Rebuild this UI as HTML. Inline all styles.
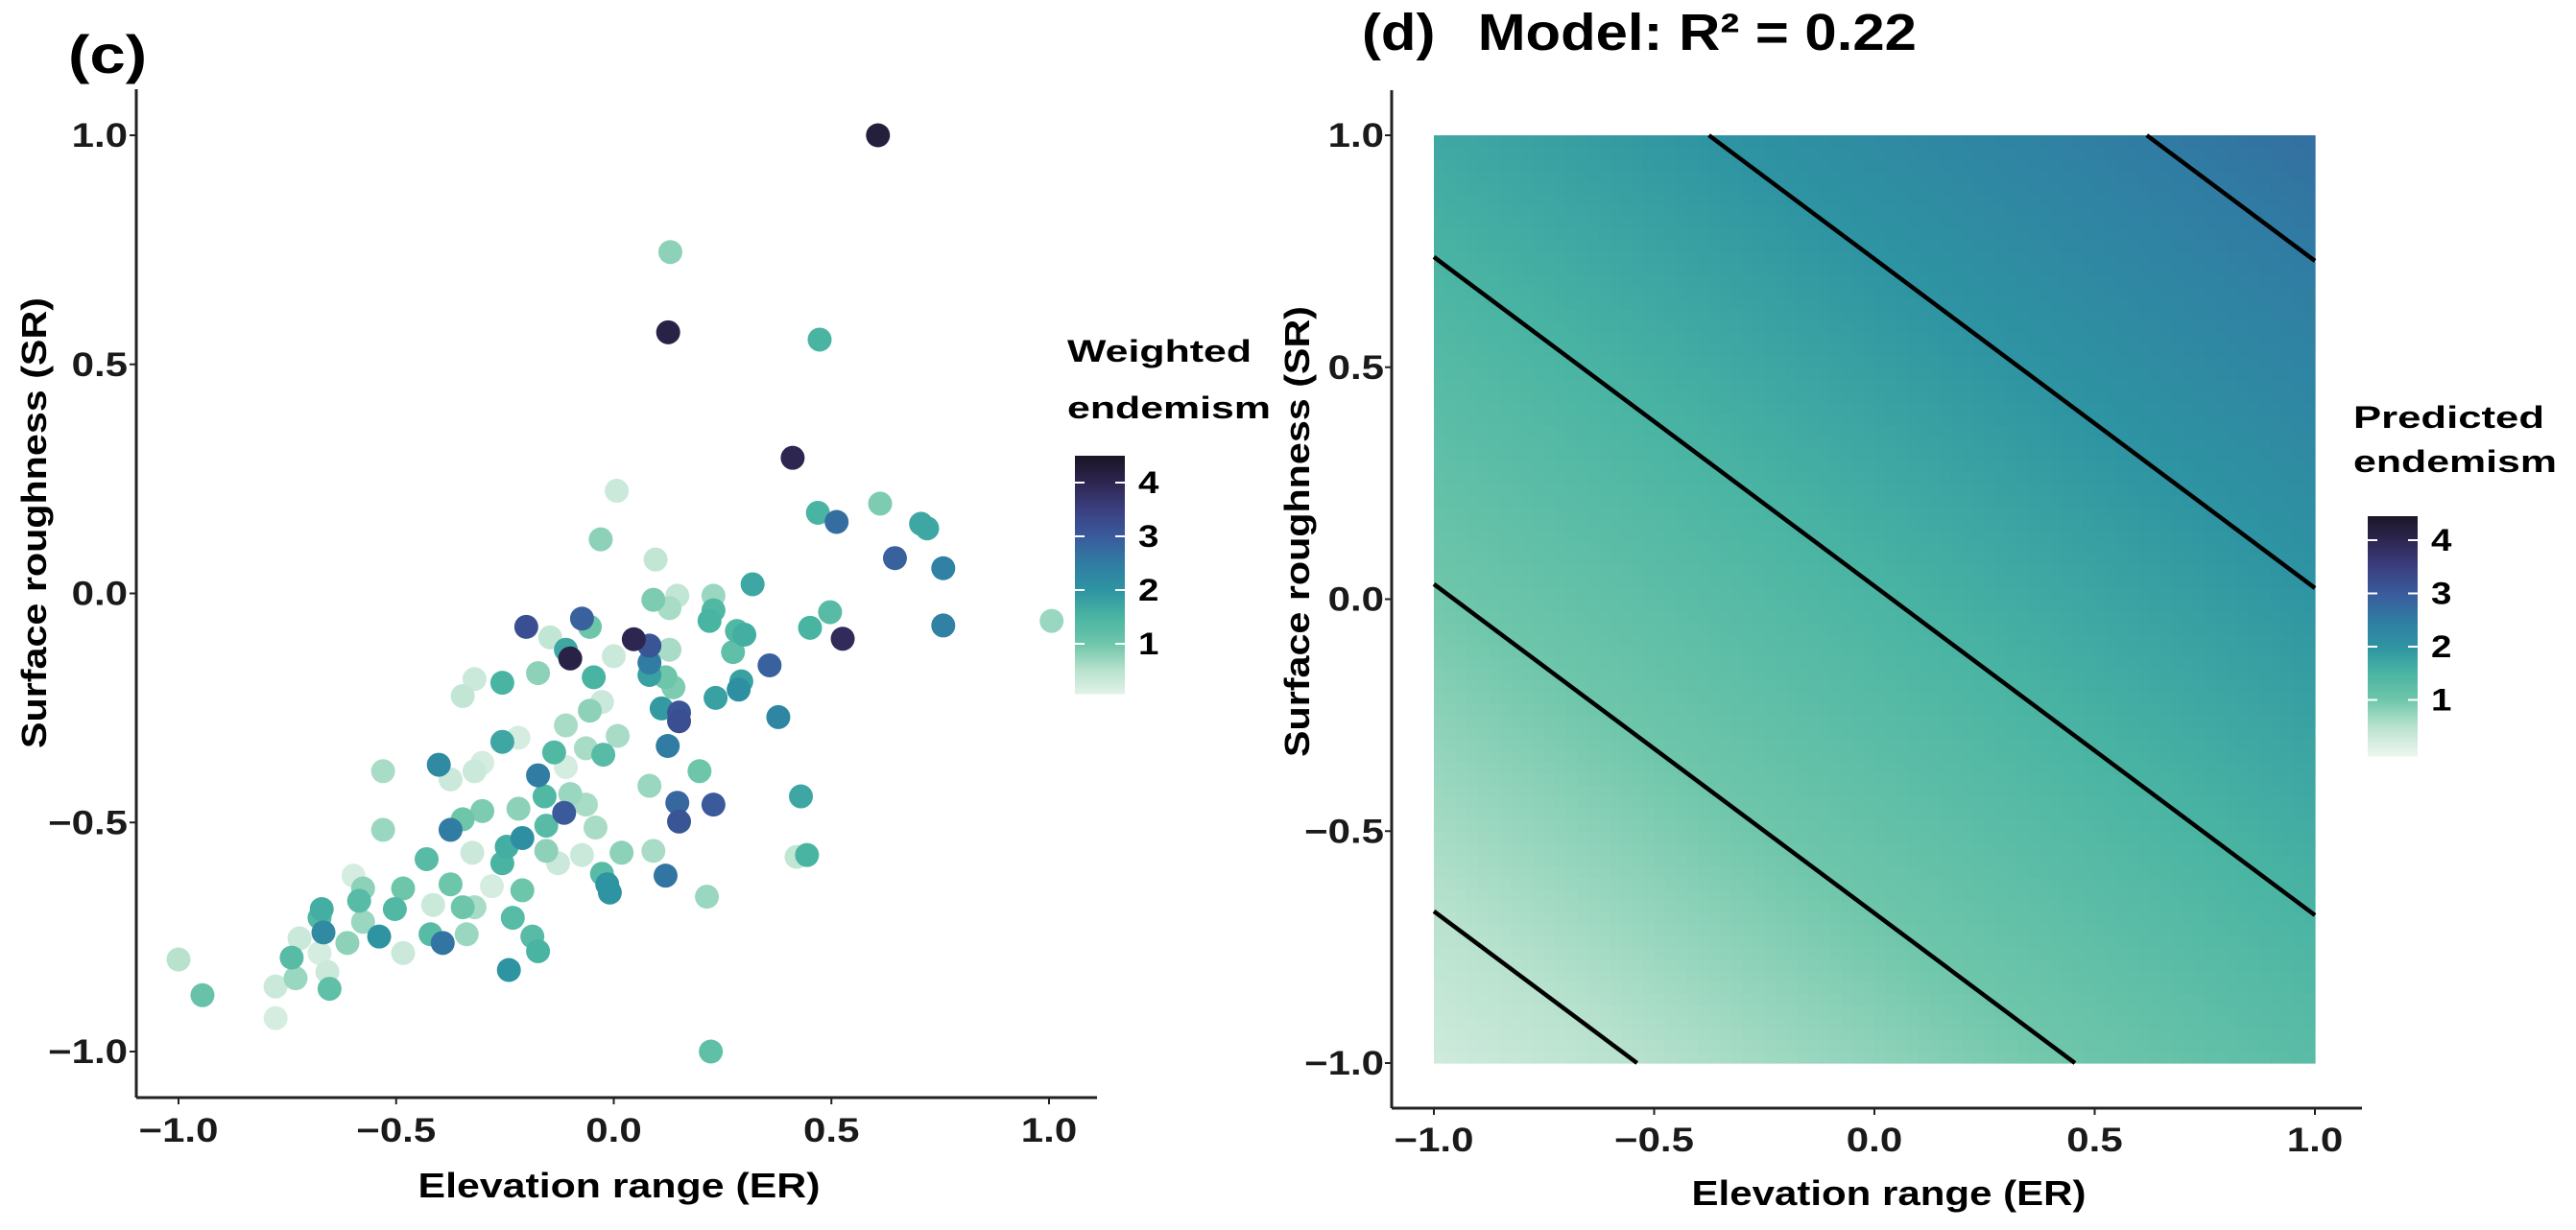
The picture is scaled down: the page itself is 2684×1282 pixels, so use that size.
<!DOCTYPE html>
<html><head><meta charset="utf-8"><style>
html,body{margin:0;padding:0;background:#fff;}
svg{display:block;font-family:"Liberation Sans",Arial,sans-serif;font-weight:bold;}
</style></head>
<body>
<svg id="fig" width="2684" height="1282" viewBox="0 0 2684 1282" xmlns="http://www.w3.org/2000/svg">
<text class="st" x="71" y="76" font-size="56">(c)</text>
<text class="st" x="1419" y="52" font-size="54">(d)<tspan dx="40">Model: R² = 0.22</tspan></text>
<text transform="translate(48,545) rotate(-90)" text-anchor="middle" font-size="36" textLength="470" lengthAdjust="spacingAndGlyphs">Surface roughness (SR)</text>
<text x="645" y="1248" text-anchor="middle" font-size="36" textLength="419" lengthAdjust="spacingAndGlyphs">Elevation range (ER)</text>
<text transform="translate(1364,554) rotate(-90)" text-anchor="middle" font-size="36" textLength="470" lengthAdjust="spacingAndGlyphs">Surface roughness (SR)</text>
<text x="1968" y="1256" text-anchor="middle" font-size="36" textLength="411" lengthAdjust="spacingAndGlyphs">Elevation range (ER)</text>
<g id="heat"></g>
<g id="contours"></g>
<g id="points"></g>
<g id="axes"></g>
<g id="legends"></g>
</svg>
<script>
// ---- data ----
const erVals = [0.13,0.125,0.007,-0.03,0.096,0.607,0.473,0.411,0.612,0.469,0.512,0.706,0.72,0.646,0.757,0.319,0.497,0.451,0.526,0.757,1.006,0.358,0.3,
0.091,0.146,0.229,0.128,0.229,-0.201,-0.073,-0.055,0.046,0.082,-0.1,-0.11,-0.146,0,0.128,0.22,0.283,0.274,0.082,0.082,0.119,0.137,0.293,0.287,0.234,0.11,0.15,0.15,0.378,
-0.046,-0.174,-0.256,-0.32,-0.347,-0.027,-0.055,-0.11,0.009,-0.064,-0.024,-0.137,-0.256,-0.219,0.124,0.197,0.082,-0.174,-0.402,-0.53,-0.375,-0.32,-0.302,-0.11,
-0.159,-0.1,-0.064,-0.114,0.146,0.229,0.15,0.43,-0.219,-0.302,-0.347,-0.375,-0.53,-0.155,-0.042,-0.21,-0.246,-0.155,-0.325,-0.43,-0.256,-0.128,-0.073,0.018,0.091,
0.119,-0.027,-0.015,-0.009,0.214,0.42,0.444,-0.598,-0.576,-0.484,-0.503,-0.585,-0.671,-0.676,-0.667,-0.576,-0.539,-0.612,-0.375,-0.415,-0.347,-0.32,-0.28,-0.21,
-0.232,-0.338,-0.421,-0.393,-0.187,-0.174,-0.241,-0.484,-0.722,-0.74,-0.676,-0.658,-0.731,-0.777,-0.653,-1.0,-0.945,-0.777,0.223];
const srVals = [0.745,0.57,0.224,0.118,0.074,1.0,0.554,0.296,0.196,0.176,0.156,0.152,0.142,0.077,0.055,0.02,-0.041,-0.075,-0.099,-0.07,-0.06,-0.157,-0.09,
-0.014,-0.005,-0.005,-0.032,-0.037,-0.073,-0.055,-0.073,-0.1,-0.114,-0.142,-0.123,-0.096,-0.137,-0.123,-0.06,-0.082,-0.128,-0.151,-0.178,-0.183,-0.205,-0.192,-0.21,-0.228,-0.251,-0.26,-0.279,-0.27,
-0.183,-0.174,-0.195,-0.187,-0.224,-0.237,-0.256,-0.288,-0.311,-0.338,-0.352,-0.347,-0.324,-0.315,-0.333,-0.388,-0.42,-0.397,-0.374,-0.388,-0.406,-0.388,-0.37,-0.379,
-0.443,-0.438,-0.461,-0.479,-0.457,-0.461,-0.498,-0.443,-0.47,-0.475,-0.493,-0.516,-0.516,-0.507,-0.511,-0.534,-0.553,-0.562,-0.566,-0.58,-0.589,-0.589,-0.571,-0.566,-0.562,
-0.616,-0.612,-0.635,-0.653,-0.662,-0.575,-0.571,-0.616,-0.644,-0.644,-0.689,-0.671,-0.689,-0.708,-0.74,-0.717,-0.749,-0.763,-0.635,-0.68,-0.685,-0.685,-0.639,-0.648,
-0.708,-0.744,-0.744,-0.763,-0.749,-0.781,-0.822,-0.785,-0.753,-0.795,-0.785,-0.826,-0.84,-0.858,-0.863,-0.799,-0.877,-0.927,-1.0];
const endVals = [0.8,4.1,0.3,0.8,0.4,4.2,1.5,4.0,0.9,1.5,2.7,1.7,1.7,2.9,2.4,1.7,1.3,1.5,3.9,2.4,0.7,2.9,1.6,
0.9,0.4,0.7,0.6,1.4,3.2,2.9,1.0,4.0,3.1,4.1,1.7,0.4,0.3,0.6,1.5,1.4,1.2,2.5,1.8,1.0,0.9,1.8,2.1,1.8,1.9,3.1,3.2,2.3,
1.5,0.8,1.5,0.3,0.4,0.3,0.8,0.6,0.6,0.6,1.3,1.4,1.7,0.2,2.5,1.0,0.7,2.5,2.2,0.6,0.3,0.3,0.2,0.2,
1.4,0.7,0.6,3.0,2.8,3.0,3.1,1.7,0.8,0.9,1.0,2.5,0.7,1.3,0.6,2.1,1.6,0.8,0.3,1.3,1.5,0.3,0.3,0.8,0.6,
2.6,1.3,2.0,2.0,0.7,0.4,1.5,0.2,0.8,1.0,1.4,1.3,1.6,1.4,2.2,0.7,2.0,0.8,1.0,0.3,1.0,0.6,0.2,1.0,
1.3,0.7,1.3,2.6,1.3,1.5,2.0,0.3,0.3,1.3,0.2,0.3,0.7,0.3,1.2,0.5,1.1,0.2,1.2];
const axisTicks = [-1.0,-0.5,0.0,0.5,1.0];
const axisTickLabels = ["\u22121.0","\u22120.5","0.0","0.5","1.0"];
const legendTicks = [1,2,3,4];
const modelIntercept = 1.48;
const modelSlopeER = 0.503;
const modelSlopeSR = 0.709;
const contourLevels = [0.5,1.0,1.5,2.0,2.5];

// ---- colour scale ----
const cStops=[[0,[232,244,236]],[0.5,[184,226,206]],[1,[110,198,170]],[1.5,[74,180,163]],[2,[46,148,162]],[2.5,[48,124,163]],[3,[58,90,156]],[3.5,[59,63,128]],[4,[45,38,80]],[4.5,[26,20,36]]];
function col(v){v=Math.max(0,Math.min(4.5,v));for(let i=1;i<cStops.length;i++){if(v<=cStops[i][0]){const a=cStops[i-1],b=cStops[i];const t=(v-a[0])/(b[0]-a[0]);const c=a[1].map((q,k)=>Math.round(q+(b[1][k]-q)*t));return `rgb(${c[0]},${c[1]},${c[2]})`;}}return 'rgb(26,20,36)';}
const NS="http://www.w3.org/2000/svg";
function mk(tag,attrs,parent){const e=document.createElementNS(NS,tag);for(const k in attrs)e.setAttribute(k,attrs[k]);parent.appendChild(e);return e;}

// ---- scales ----
const xC=v=>639.5+v*453.5, yC=v=>618.5-v*477.5;
const xD=v=>1953+v*459, yD=v=>624.5-v*483.5;

// ---- axes ----
const axes=document.getElementById('axes');
function drawAxes(pfx,axX,axTop,axY,axRight,xs,ys,labX,labY){
  let l=mk('line',{x1:axX,y1:axTop,x2:axX,y2:axY,stroke:'#222','stroke-width':3},axes);
  
  
  l=mk('line',{x1:axX,y1:axY,x2:axRight,y2:axY,stroke:'#222','stroke-width':3},axes);
  
  
  axisTicks.forEach((t,i)=>{
    mk('line',{x1:xs(t),y1:axY,x2:xs(t),y2:axY+7,stroke:'#222','stroke-width':2},axes);
    const tx=mk('text',{x:xs(t),y:labX,'text-anchor':'middle','font-size':35,fill:'#1a1a1a','class':'st'},axes);
    tx.textContent=axisTickLabels[i];
    
    
    mk('line',{x1:axX-7,y1:ys(t),x2:axX,y2:ys(t),stroke:'#222','stroke-width':2},axes);
    const ty=mk('text',{x:labY,y:ys(t)+12,'text-anchor':'end','font-size':35,fill:'#1a1a1a','class':'st'},axes);
    ty.textContent=axisTickLabels[i];
    
    
  });
}
drawAxes('c',142,93,1144,1143,xC,yC,1190,133);
drawAxes('d',1450,94,1155,2461,xD,yD,1200,1442);

// ---- heatmap ----
const heat=document.getElementById('heat');
const N=80;
const model=(er,sr)=>modelIntercept+modelSlopeER*er+modelSlopeSR*sr;
for(let i=0;i<N;i++){for(let j=0;j<N;j++){
  const er0=-1+2*i/N, er1=-1+2*(i+1)/N, sr0=-1+2*j/N, sr1=-1+2*(j+1)/N;
  const r=mk('rect',{x:xD(er0),y:yD(sr1),width:xD(er1)-xD(er0)+0.6,height:yD(sr0)-yD(sr1)+0.6,fill:col(model((er0+er1)/2,(sr0+sr1)/2))},heat);
  
  
}}

// ---- contours ----
const cont=document.getElementById('contours');
contourLevels.forEach(lv=>{
  const pts=[];
  const srAt=er=>(lv-modelIntercept-modelSlopeER*er)/modelSlopeSR;
  const erAt=sr=>(lv-modelIntercept-modelSlopeSR*sr)/modelSlopeER;
  [[-1,srAt(-1)],[1,srAt(1)],[erAt(-1),-1],[erAt(1),1]].forEach(p=>{if(p[0]>=-1.0001&&p[0]<=1.0001&&p[1]>=-1.0001&&p[1]<=1.0001)pts.push(p);});
  if(pts.length>=2){
    const l=mk('line',{x1:xD(pts[0][0]),y1:yD(pts[0][1]),x2:xD(pts[1][0]),y2:yD(pts[1][1]),stroke:'#000','stroke-width':4.5},cont);
    
    
  }
});

// ---- scatter ----
const pg=document.getElementById('points');
const order=endVals.map((v,i)=>i).sort((a,b)=>endVals[a]-endVals[b]);
order.forEach(i=>{
  const c=mk('circle',{cx:xC(erVals[i]),cy:yC(srVals[i]),r:12.5,fill:col(endVals[i])},pg);
  
  
});

// ---- legends ----
const lg=document.getElementById('legends');
function legend(pfx,x,top,bottom,tickY4,unit,title1,title2,tx,ty1,ty2,w1,w2){
  const t1=mk('text',{x:tx,y:ty1,'font-size':32,textLength:w1,lengthAdjust:'spacingAndGlyphs'},lg);
  t1.textContent=title1;
  
  
  const t2=mk('text',{x:tx,y:ty2,'font-size':32,textLength:w2,lengthAdjust:'spacingAndGlyphs'},lg);
  t2.textContent=title2;
  
  
  const valAt=y=>4+(tickY4-y)/unit;
  for(let y=top;y<bottom;y+=2){
    mk('rect',{x:x,y:y,width:52,height:2.5,fill:col(valAt(y+1))},lg);
  }
  legendTicks.forEach(t=>{
    const y=tickY4+(4-t)*unit;
    mk('line',{x1:x,y1:y,x2:x+10,y2:y,stroke:'#fff','stroke-width':2},lg);
    mk('line',{x1:x+42,y1:y,x2:x+52,y2:y,stroke:'#fff','stroke-width':2},lg);
    const lt=mk('text',{x:x+66,y:y+11,'font-size':32,'class':'st'},lg);
    lt.textContent=String(t);
    
    
  });
}
legend('c',1120,475,723,503,56,'Weighted','endemism',1112,377,436,192,212);
legend('d',2467,538,787,563,55.5,'Predicted','endemism',2452,446,492,199,212);

// horizontal stretch of text to match reference aspect
document.querySelectorAll('text.st').forEach(t=>{
  const w=t.getComputedTextLength();
  t.setAttribute('textLength',(w*1.2).toFixed(1));
  t.setAttribute('lengthAdjust','spacingAndGlyphs');
});
</script>
</body></html>
